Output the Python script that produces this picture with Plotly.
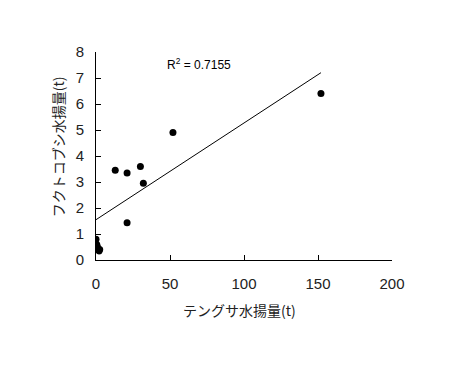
import numpy as np
import plotly.graph_objects as go

tengusa = [13, 21, 30, 32, 52, 21, 0, 0.5, 1, 2, 2.5, 152]
fukutokobushi = [3.45, 3.35, 3.6, 2.95, 4.9, 1.43, 0.8, 0.6, 0.5, 0.35, 0.4, 6.4]

trend_intercept = 1.55
trend_slope = 0.0372
trend_x = [0, 152]
r2_text = "R<sup>2</sup> = 0.7155"

x_ticks = [0, 50, 100, 150, 200]
y_ticks = [0, 1, 2, 3, 4, 5, 6, 7, 8]

font = "Liberation Sans, Arial, sans-serif"
jp_font = "Noto Sans CJK JP, sans-serif"

fig = go.Figure()
fig.add_trace(go.Scatter(
    x=trend_x, y=[trend_intercept + trend_slope * v for v in trend_x],
    mode="lines", line=dict(color="black", width=1), showlegend=False, hoverinfo="skip"))
fig.add_trace(go.Scatter(
    x=tengusa, y=fukutokobushi, mode="markers",
    marker=dict(color="black", size=7, symbol="circle"), showlegend=False))

fig.add_annotation(x=0.233, y=0.94, xref="paper", yref="paper", text=r2_text,
                   showarrow=False, xanchor="left", yanchor="middle",
                   font=dict(family=font, size=12, color="black"))

# axis titles
fig.add_annotation(x=0.486, y=-0.24, xref="paper", yref="paper", text="テングサ水揚量(t)",
                   showarrow=False, xanchor="center", yanchor="middle",
                   font=dict(family=jp_font, size=14, color="#222"))
fig.add_annotation(x=-0.128, y=0.543, xref="paper", yref="paper", text="フクトコブシ水揚量(t)",
                   showarrow=False, xanchor="center", yanchor="middle", textangle=-90,
                   font=dict(family=jp_font, size=14, color="#222"))

fig.update_layout(
    width=450, height=378,
    margin=dict(l=88, r=66, t=44, b=126, autoexpand=False),
    paper_bgcolor="white", plot_bgcolor="white",
    xaxis=dict(range=[0, 200], tickvals=x_ticks, showline=True, linecolor="black", linewidth=1,
               ticks="inside", ticklen=5, tickcolor="black", showgrid=False, zeroline=False,
               automargin=False, ticklabelstandoff=10,
               tickfont=dict(family=font, size=15, color="#222")),
    yaxis=dict(range=[0, 8], tickvals=y_ticks, showline=True, linecolor="black", linewidth=1,
               ticks="inside", ticklen=5, tickcolor="black", showgrid=False, zeroline=False,
               automargin=False, ticklabelstandoff=8,
               tickfont=dict(family=font, size=15, color="#222")),
)

fig.write_html("out.html")
